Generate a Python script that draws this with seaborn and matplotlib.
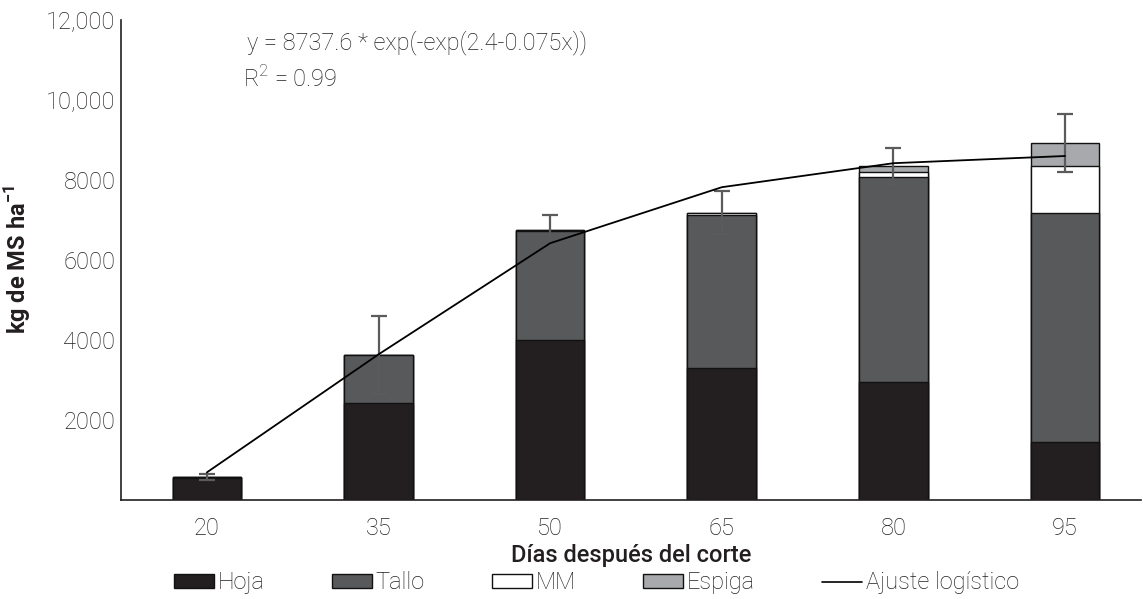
import numpy as np
import pandas as pd
import matplotlib
matplotlib.use("Agg")
import matplotlib.pyplot as plt
from matplotlib.patches import Patch
from matplotlib.lines import Line2D
from matplotlib.ticker import FixedLocator, FuncFormatter
import seaborn as sns

# Dry-matter yield by plant fraction (kg MS/ha) at each regrowth age
dias = ["20", "35", "50", "65", "80", "95"]
hoja = [560, 2420, 3990, 3310, 2940, 1460]
tallo = [25, 1205, 2740, 3810, 5125, 5725]
mm = [0, 0, 20, 65, 125, 1175]
espiga = [0, 0, 0, 0, 165, 560]
error_total = [75, 975, 375, 540, 445, 730]
ajuste = [690, 3640, 6420, 7820, 8420, 8600]

y_ticks = [2000, 4000, 6000, 8000, 10000, 12000]

sns.set_theme(style="white")
plt.rcParams["font.family"] = ["Roboto", "DejaVu Sans"]
plt.rcParams["mathtext.fontset"] = "custom"
plt.rcParams["mathtext.rm"] = "Roboto:light"
plt.rcParams["mathtext.bf"] = "Roboto:bold"

c_hoja = "#231f20"
c_tallo = "#58595b"
c_mm = "#ffffff"
c_espiga = "#a7a9ac"
c_text = "#231f20"

df = pd.DataFrame({"dias": dias, "hoja": hoja, "tallo": tallo,
                   "mm": mm, "espiga": espiga})
df["c_tallo"] = df["hoja"] + df["tallo"]
df["c_mm"] = df["c_tallo"] + df["mm"]
df["c_espiga"] = df["c_mm"] + df["espiga"]

fig = plt.figure(figsize=(11.43, 5.99), dpi=100)
ax = fig.add_axes([0.1059, 0.1653, 0.892, 0.8013])

# Stacked bars: cumulative heights drawn from the top layer down
layers = [("c_espiga", c_espiga), ("c_mm", c_mm), ("c_tallo", c_tallo), ("hoja", c_hoja)]
for col, color in layers:
    sns.barplot(data=df, x="dias", y=col, color=color, width=0.40,
                edgecolor="#111111", linewidth=1.0, saturation=1, ax=ax,
                errorbar=None, zorder=2)

pos = np.arange(len(dias))
ax.errorbar(pos, df["c_espiga"], yerr=error_total, fmt="none",
            ecolor="#5a5b5d", elinewidth=1.6, capsize=6, capthick=1.6, zorder=3)
sns.lineplot(x=pos, y=ajuste, color="black", linewidth=1.3, ax=ax, zorder=4)

ax.set_xlim(-0.5, 5.44)
ax.set_ylim(0, 12000)
ax.yaxis.set_major_locator(FixedLocator(y_ticks))
ax.yaxis.set_major_formatter(FuncFormatter(
    lambda v, p: f"{int(v):,}" if v >= 10000 else f"{int(v)}"))
ax.tick_params(axis="both", length=0, labelsize=17, colors=c_text)
ax.tick_params(axis="x", pad=12)
ax.tick_params(axis="y", pad=4)
for lab in ax.get_xticklabels() + ax.get_yticklabels():
    lab.set_fontweight("light")

for s in ["top", "right"]:
    ax.spines[s].set_visible(False)
for s in ["left", "bottom"]:
    ax.spines[s].set_color("#231f20")
    ax.spines[s].set_linewidth(1.2)

ax.set_xlabel("Días después del corte", fontsize=17, fontweight="medium",
              color=c_text, labelpad=3)
ax.set_ylabel(r"kg de MS ha$^{\mathbf{-1}}$", fontsize=17, fontweight="bold",
              color=c_text, labelpad=9)

ax.text(0.124, 0.952, "y = 8737.6 * exp(-exp(2.4-0.075x))", transform=ax.transAxes,
        fontsize=17, fontweight="light", color=c_text, va="center", ha="left")
ax.text(0.1195, 0.878, r"R$^{2}$ = 0.99", transform=ax.transAxes,
        fontsize=17, fontweight="light", color=c_text, va="center", ha="left")

handles = [
    Patch(facecolor=c_hoja, edgecolor="#111111", linewidth=1.0, label="Hoja"),
    Patch(facecolor=c_tallo, edgecolor="#111111", linewidth=1.0, label="Tallo"),
    Patch(facecolor=c_mm, edgecolor="#111111", linewidth=1.0, label="MM"),
    Patch(facecolor=c_espiga, edgecolor="#111111", linewidth=1.0, label="Espiga"),
    Line2D([0], [0], color="black", linewidth=1.2, label="Ajuste logístico"),
]
leg = fig.legend(handles=handles, loc="center", bbox_to_anchor=(0.522, 0.027),
                 ncol=5, frameon=False, fontsize=17, handlelength=1.7,
                 handleheight=0.55, handletextpad=0.15, columnspacing=2.85,
                 borderpad=0)
for t in leg.get_texts():
    t.set_color(c_text)
    t.set_fontweight("light")

fig.savefig("out.png", dpi=100)
